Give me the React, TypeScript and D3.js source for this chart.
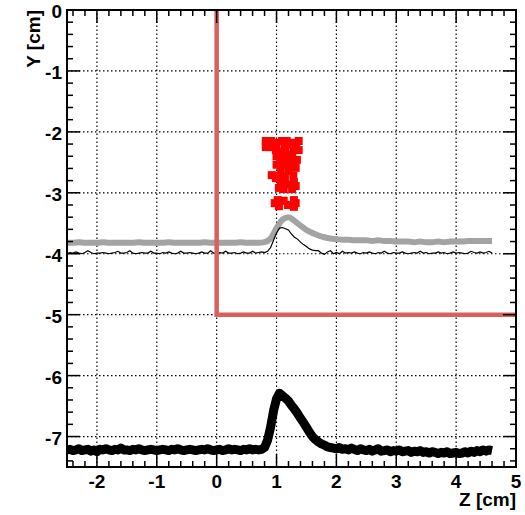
import React from "react";
import * as d3 from "d3";

// ---- data ----
const X_TICKS = [-2, -1, 0, 1, 2, 3, 4, 5];
const Y_TICKS = [0, -1, -2, -3, -4, -5, -6, -7];

// region boundary (red line)
const REGION_Z = [0, 0, 5];
const REGION_Y = [0, -5, -5];

// gray profile, z from -2.5 step 0.1
const GRAY_Z0 = -2.5;
const GRAY_STEP = 0.1;
const GRAY_Y = [
  -3.82, -3.82, -3.81, -3.82, -3.82, -3.82, -3.81, -3.82, -3.82, -3.82,
  -3.82, -3.82, -3.81, -3.82, -3.82, -3.82, -3.82, -3.81, -3.82, -3.82,
  -3.82, -3.82, -3.82, -3.81, -3.82, -3.82, -3.82, -3.82, -3.82, -3.81,
  -3.82, -3.82, -3.82, -3.81,
  -3.75, -3.58, -3.44, -3.4, -3.46, -3.54, -3.61, -3.66, -3.7, -3.73, -3.75, -3.76,
  -3.77, -3.77, -3.78, -3.78, -3.78, -3.79, -3.78, -3.79, -3.79, -3.8,
  -3.8, -3.8, -3.81, -3.8, -3.81, -3.81, -3.8, -3.81, -3.8, -3.8,
  -3.8, -3.79, -3.79, -3.79, -3.79, -3.79,
];

// thin black profile, z from -2.5 step 0.05
const THIN_Z0 = -2.5;
const THIN_STEP = 0.05;
const THIN_Y = [
  -4.0, -3.98, -3.99, -3.97, -3.99, -4.0, -3.98, -3.95, -3.98, -4.0,
  -3.99, -3.99, -3.98, -3.99, -4.0, -3.99, -3.98, -3.96, -3.99, -3.99,
  -3.98, -3.95, -3.99, -4.0, -3.99, -3.98, -3.99, -3.99, -3.96, -3.99,
  -3.99, -4.0, -3.98, -3.99, -3.97, -3.99, -4.0, -3.99, -3.96, -3.99,
  -3.99, -3.98, -3.99, -4.0, -3.99, -3.97, -3.99, -3.99, -3.95, -3.99,
  -4.0, -3.98, -3.99, -3.96, -3.99, -3.99, -3.98, -4.0, -3.99, -3.97,
  -3.99, -3.99, -3.96, -3.99, -3.98, -3.97, -3.98, -3.96, -3.9, -3.78,
  -3.66, -3.58, -3.57, -3.59, -3.61, -3.68, -3.73, -3.76, -3.81, -3.85,
  -3.88, -3.92, -3.94, -3.95, -3.95, -3.99, -4.01, -3.97, -3.95, -4.0,
  -3.98, -4.0, -3.96, -3.99, -3.98, -3.99, -3.97, -3.99, -4.0, -3.98,
  -3.99, -3.97, -3.99, -4.0, -3.98, -3.99, -3.96, -3.99, -4.0, -3.98,
  -3.99, -3.99, -3.97, -3.99, -4.0, -3.99, -3.98, -3.99, -3.96, -3.99,
  -3.98, -4.0, -3.99, -3.99, -3.97, -3.99, -3.98, -4.0, -3.99, -3.97,
  -3.99, -3.98, -3.99, -4.0, -3.99, -3.96, -3.98, -3.99, -3.97, -3.99,
  -3.98, -3.96, -3.99,
];

// thick black profile, z from -2.5 step 0.05
const THICK_Z0 = -2.5;
const THICK_STEP = 0.05;
const THICK_Y = [
  -7.22, -7.21, -7.23, -7.22, -7.2, -7.23, -7.22, -7.21, -7.24, -7.22,
  -7.25, -7.21, -7.22, -7.2, -7.22, -7.23, -7.21, -7.22, -7.19, -7.22,
  -7.22, -7.23, -7.21, -7.22, -7.2, -7.22, -7.23, -7.22, -7.21, -7.22,
  -7.23, -7.22, -7.21, -7.22, -7.23, -7.21, -7.22, -7.2, -7.22, -7.23,
  -7.22, -7.21, -7.22, -7.23, -7.22, -7.21, -7.22, -7.2, -7.22, -7.23,
  -7.22, -7.21, -7.23, -7.22, -7.2, -7.22, -7.21, -7.22, -7.23, -7.21,
  -7.22, -7.2, -7.22, -7.21, -7.22, -7.21, -7.18, -7.06, -6.85, -6.58,
  -6.38, -6.29, -6.33, -6.37, -6.42, -6.49, -6.55, -6.62, -6.7, -6.77,
  -6.85, -6.93, -7.0, -7.05, -7.09, -7.12, -7.14, -7.17, -7.18, -7.19,
  -7.2, -7.18, -7.21, -7.2, -7.22, -7.19, -7.21, -7.23, -7.2, -7.22,
  -7.23, -7.21, -7.24, -7.22, -7.2, -7.24, -7.23, -7.22, -7.25, -7.23,
  -7.24, -7.22, -7.25, -7.24, -7.23, -7.26, -7.24, -7.25, -7.23, -7.26,
  -7.25, -7.27, -7.25, -7.26, -7.28, -7.26, -7.27, -7.25, -7.28, -7.27,
  -7.26, -7.28, -7.27, -7.25, -7.27, -7.24, -7.26, -7.23, -7.25, -7.22,
  -7.24, -7.22, -7.23,
];

// red hit markers
const HIT_Z = [
  0.82, 0.91, 0.82, 0.92, 1.0, 1.09, 1.17, 1.26, 1.14, 1.28,
  1.06, 1.14, 1.26, 1.06, 1.17, 1.28, 1.11, 1.24, 1.07, 1.2,
  0.92, 1.02, 1.14, 1.28, 1.07, 1.17, 1.29, 1.12, 1.26,
  1.02, 1.12, 1.29, 1.04, 1.19, 1.29, 0.97, 1.2, 1.33,
  1.37, 1.37, 0.99, 1.0, 1.0, 1.34, 1.32, 0.99, 1.32, 1.04, 1.32, 0.97,
];
const HIT_Y = [
  -2.15, -2.15, -2.25, -2.25, -2.2, -2.15, -2.15, -2.18, -2.25, -2.28,
  -2.33, -2.35, -2.38, -2.43, -2.46, -2.49, -2.54, -2.58, -2.63, -2.64,
  -2.71, -2.72, -2.74, -2.72, -2.84, -2.86, -2.82, -2.94, -2.94,
  -3.12, -3.13, -3.12, -3.22, -3.2, -3.23, -2.18, -2.2, -2.22,
  -2.15, -2.3, -2.3, -2.4, -2.54, -2.46, -2.59, -2.76, -2.89, -2.92, -3.17, -3.17,
];

const W = 525;
const H = 515;
const FONT = "'Liberation Sans', Arial, Helvetica, sans-serif";

export default function App() {
  const x = d3.scaleLinear().domain([-2.5, 5]).range([67, 516]);
  const y = d3.scaleLinear().domain([-7.5, 0]).range([467, 10]);
  const [x0, x1] = x.range();
  const [y0, y1] = y.range(); // y0 bottom, y1 top

  const line = d3
    .line<[number, number]>()
    .x((d) => x(d[0]))
    .y((d) => y(d[1]));

  const gray: [number, number][] = GRAY_Y.map((v, i) => [GRAY_Z0 + i * GRAY_STEP, v]);
  const thin: [number, number][] = THIN_Y.map((v, i) => [THIN_Z0 + i * THIN_STEP, v]);
  const thick: [number, number][] = THICK_Y.map((v, i) => [THICK_Z0 + i * THICK_STEP, v]);
  const region: [number, number][] = REGION_Z.map((z, i) => [z, REGION_Y[i]]);

  const grayLine = d3
    .line<[number, number]>()
    .x((d) => x(d[0]))
    .y((d) => y(d[1]))
    .curve(d3.curveMonotoneX);

  const minorX = d3.range(-2.4, 5.0001, 0.2).filter((v) => Math.abs(v - Math.round(v)) > 0.01);
  const minorY = d3.range(-7.4, 0.0001, 0.2).filter((v) => Math.abs(v - Math.round(v)) > 0.01);

  const MAJ = 13;
  const MIN = 6;
  const MS = 8;

  return (
    <svg
      width={W}
      height={H}
      style={{ position: "absolute", left: 0, top: 0, background: "#fff" }}
    >
      <rect x={0} y={0} width={W} height={H} fill="#fff" />
      <defs>
        <clipPath id="frame">
          <rect x={x0} y={y1} width={x1 - x0} height={y0 - y1} />
        </clipPath>
      </defs>

      {/* grid */}
      <g stroke="#000" strokeWidth={1.2} strokeDasharray="1.5,2.5">
        {X_TICKS.filter((t) => t < 5).map((t) => (
          <line key={"gx" + t} x1={x(t)} x2={x(t)} y1={y0} y2={y1} />
        ))}
        {Y_TICKS.filter((t) => t < 0).map((t) => (
          <line key={"gy" + t} x1={x0} x2={x1} y1={y(t)} y2={y(t)} />
        ))}
      </g>

      <g clipPath="url(#frame)">
        <path d={grayLine(gray) || ""} fill="none" stroke="#a3a3a3" strokeWidth={6} strokeLinejoin="round" />
        <path d={line(thin) || ""} fill="none" stroke="#000" strokeWidth={1.2} />
        <path d={line(thick) || ""} fill="none" stroke="#000" strokeWidth={9} strokeLinejoin="round" />
        <path d={line(region) || ""} fill="none" stroke="#d9615b" strokeWidth={4.5} />
        {HIT_Z.map((z, i) => (
          <rect key={"h" + i} x={x(z) - MS / 2} y={y(HIT_Y[i]) - MS / 2} width={MS} height={MS} fill="#ff0000" />
        ))}
      </g>

      {/* ticks */}
      <g stroke="#000" strokeWidth={1.5}>
        {X_TICKS.map((t) => (
          <g key={"tx" + t}>
            <line x1={x(t)} x2={x(t)} y1={y0} y2={y0 - MAJ} />
            <line x1={x(t)} x2={x(t)} y1={y1} y2={y1 + MAJ} />
          </g>
        ))}
        {minorX.map((t) => (
          <g key={"mx" + t}>
            <line x1={x(t)} x2={x(t)} y1={y0} y2={y0 - MIN} />
            <line x1={x(t)} x2={x(t)} y1={y1} y2={y1 + MIN} />
          </g>
        ))}
        {Y_TICKS.map((t) => (
          <g key={"ty" + t}>
            <line x1={x0} x2={x0 + MAJ} y1={y(t)} y2={y(t)} />
            <line x1={x1} x2={x1 - MAJ} y1={y(t)} y2={y(t)} />
          </g>
        ))}
        {minorY.map((t) => (
          <g key={"my" + t}>
            <line x1={x0} x2={x0 + MIN} y1={y(t)} y2={y(t)} />
            <line x1={x1} x2={x1 - MIN} y1={y(t)} y2={y(t)} />
          </g>
        ))}
      </g>

      {/* frame */}
      <rect x={x0} y={y1} width={x1 - x0} height={y0 - y1} fill="none" stroke="#000" strokeWidth={2} />

      {/* tick labels */}
      <g fontFamily={FONT} fontWeight="bold" fontSize={19} fill="#000">
        {X_TICKS.map((t) => (
          <text key={"lx" + t} x={x(t)} y={y0 + 21} textAnchor="middle">
            {String(t)}
          </text>
        ))}
        {Y_TICKS.map((t) => (
          <text key={"ly" + t} x={x0 - 5} y={y(t) + 8} textAnchor="end">
            {String(t)}
          </text>
        ))}
        <text x={x1} y={y0 + 39} textAnchor="end">Z [cm]</text>
        <text transform={`translate(40, ${y1}) rotate(-90)`} textAnchor="end">Y [cm]</text>
      </g>
    </svg>
  );
}
